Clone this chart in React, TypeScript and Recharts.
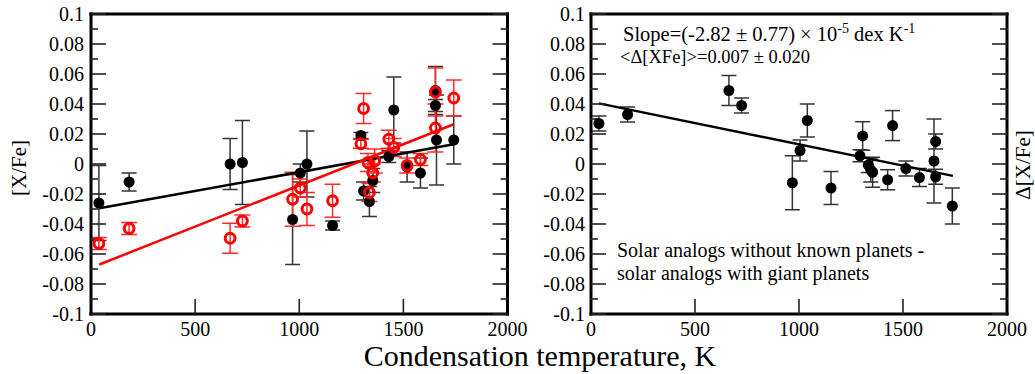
import { ComposedChart, Scatter, Line, XAxis, YAxis, ErrorBar } from 'recharts';

// axis ticks
const xMajorTicks = [0, 500, 1000, 1500, 2000];
const xMajorLabels = ['0', '500', '1000', '1500', '2000'];
const xMinorTicks = [250, 750, 1250, 1750];
const yMajorTicks = [-0.1, -0.08, -0.06, -0.04, -0.02, 0, 0.02, 0.04, 0.06, 0.08, 0.1];
const yMajorLabels = ['-0.1', '-0.08', '-0.06', '-0.04', '-0.02', '0', '0.02', '0.04', '0.06', '0.08', '0.1'];
const yMinorTicks = [-0.09, -0.07, -0.05, -0.03, -0.01, 0.01, 0.03, 0.05, 0.07, 0.09];

// left panel, black filled circles
const leftBlackTemp = [38, 183, 668, 727, 968, 1005, 1037, 1160, 1296, 1309, 1337, 1353, 1430, 1454, 1518, 1582, 1654, 1654, 1659, 1742];
const leftBlackVal = [-0.026, -0.012, 0.0, 0.001, -0.037, -0.006, 0.0, -0.041, 0.019, -0.018, -0.025, -0.011, 0.005, 0.036, -0.002, -0.006, 0.049, 0.039, 0.016, 0.016];
const leftBlackErr = [0.025, 0.006, 0.017, 0.028, 0.03, 0.006, 0.022, 0.003, 0.002, 0.006, 0.01, 0.008, 0.004, 0.022, 0.01, 0.01, 0.016, 0.004, 0.03, 0.016];

// left panel, red open circles
const leftRedTemp = [38, 183, 668, 727, 968, 1005, 1037, 1160, 1296, 1309, 1330, 1337, 1353, 1362, 1430, 1454, 1518, 1582, 1654, 1654, 1742];
const leftRedVal = [-0.053, -0.043, -0.0495, -0.038, -0.0235, -0.016, -0.03, -0.0245, 0.0135, 0.037, 0.001, -0.019, -0.006, 0.002, 0.0165, 0.011, -0.001, 0.003, 0.048, 0.024, 0.044];
const leftRedErr = [0.004, 0.004, 0.01, 0.004, 0.018, 0.006, 0.011, 0.011, 0.003, 0.01, 0.006, 0.006, 0.006, 0.008, 0.006, 0.006, 0.005, 0.004, 0.016, 0.016, 0.012];

// fitted lines (end points)
const leftBlackFit = [{ x: 40, y: -0.0295 }, { x: 1742, y: 0.0131 }];
const leftRedFit = [{ x: 40, y: -0.067 }, { x: 1742, y: 0.0265 }];

// right panel, differences
const rightTemp = [38, 176, 663, 724, 968, 1005, 1040, 1154, 1293, 1306, 1333, 1345, 1354, 1426, 1450, 1514, 1579, 1657, 1649, 1657, 1737];
const rightVal = [0.027, 0.033, 0.049, 0.039, -0.0125, 0.009, 0.029, -0.016, 0.0055, 0.0187, -0.0007, -0.004, -0.0055, -0.0105, 0.0256, -0.003, -0.009, 0.015, 0.002, -0.0085, -0.028];
const rightErr = [0.005, 0.005, 0.01, 0.005, 0.018, 0.007, 0.011, 0.011, 0.004, 0.0095, 0.005, 0.008, 0.01, 0.0067, 0.01, 0.005, 0.006, 0.005, 0.028, 0.005, 0.012];
const rightFit = [{ x: 38, y: 0.0404 }, { x: 1740, y: -0.0079 }];

const toRows = (t: number[], v: number[], e: number[]) => t.map((x, i) => ({ x, y: v[i], err: e[i] }));
const leftBlack = toRows(leftBlackTemp, leftBlackVal, leftBlackErr);
const leftRed = toRows(leftRedTemp, leftRedVal, leftRedErr);
const rightData = toRows(rightTemp, rightVal, rightErr);

const SERIF = '"Liberation Serif", "DejaVu Serif", serif';
const TICK_FONT = { fill: '#000', fontSize: 20, fontFamily: SERIF };
const AXIS_LINE = { stroke: '#000', strokeWidth: 3, strokeLinecap: 'square' as const };
const TICK_LINE = { stroke: '#222', strokeWidth: 1.6 };
const none = () => '';
const yLabel = (v: number) => {
  const i = yMajorTicks.findIndex((t) => Math.abs(t - v) < 1e-9);
  return i >= 0 ? yMajorLabels[i] : '';
};
const xLabel = (v: number) => {
  const i = xMajorTicks.indexOf(v);
  return i >= 0 ? xMajorLabels[i] : '';
};

const BlackDot = (p: any) => <circle cx={p.cx} cy={p.cy} r={5.5} fill="#000" />;
const RedRing = (p: any) => <circle cx={p.cx} cy={p.cy} r={4.9} fill="none" stroke="#ff0000" strokeWidth={3} />;

// every axis is 1px thick so recharts still draws it; the major one sits right on the frame
function frameAxes(yTickMargin: number) {
  const common = { type: 'number' as const, allowDataOverflow: true, interval: 0 as const };
  return [
    <XAxis key="xb" xAxisId="b" dataKey="x" orientation="bottom" domain={[0, 2000]} ticks={xMajorTicks} height={1}
      tickSize={-15} tickMargin={23} tickFormatter={xLabel} tick={TICK_FONT} axisLine={AXIS_LINE} tickLine={TICK_LINE} {...common} />,
    <XAxis key="xbm" xAxisId="bm" orientation="bottom" domain={[0, 2000]} ticks={xMinorTicks} height={1}
      tickSize={-8} tickFormatter={none} axisLine={false} tickLine={TICK_LINE} {...common} />,
    <XAxis key="xt" xAxisId="t" orientation="top" domain={[0, 2000]} ticks={xMajorTicks} height={1}
      tickSize={-15} tickFormatter={none} axisLine={AXIS_LINE} tickLine={TICK_LINE} {...common} />,
    <XAxis key="xtm" xAxisId="tm" orientation="top" domain={[0, 2000]} ticks={xMinorTicks} height={1}
      tickSize={-8} tickFormatter={none} axisLine={false} tickLine={TICK_LINE} {...common} />,
    <YAxis key="yl" yAxisId="l" orientation="left" domain={[-0.1, 0.1]} ticks={yMajorTicks} width={1}
      tickSize={-15} tickMargin={yTickMargin} tickFormatter={yLabel} tick={TICK_FONT} axisLine={AXIS_LINE} tickLine={TICK_LINE} {...common} />,
    <YAxis key="ylm" yAxisId="lm" orientation="left" domain={[-0.1, 0.1]} ticks={yMinorTicks} width={1}
      tickSize={-8} tickFormatter={none} axisLine={false} tickLine={TICK_LINE} {...common} />,
    <YAxis key="yr" yAxisId="r" orientation="right" domain={[-0.1, 0.1]} ticks={yMajorTicks} width={1}
      tickSize={-15} tickFormatter={none} axisLine={AXIS_LINE} tickLine={TICK_LINE} {...common} />,
    <YAxis key="yrm" yAxisId="rm" orientation="right" domain={[-0.1, 0.1]} ticks={yMinorTicks} width={1}
      tickSize={-8} tickFormatter={none} axisLine={false} tickLine={TICK_LINE} {...common} />,
  ];
}

export default function App() {
  return (
    <div style={{ position: 'absolute', left: 0, top: 0, width: 1035, height: 374, background: '#fff' }}>
      <div style={{ position: 'absolute', left: 0, top: 0 }}>
        <ComposedChart width={540} height={374} margin={{ top: 12, bottom: 58, left: 89, right: 30.5 }}>
          {frameAxes(22)}
          <Scatter data={leftBlack} dataKey="y" xAxisId="b" yAxisId="l" shape={BlackDot} isAnimationActive={false}>
            <ErrorBar dataKey="err" direction="y" width={7.5} stroke="#333" strokeWidth={1.5} />
          </Scatter>
          <Scatter data={leftRed} dataKey="y" xAxisId="b" yAxisId="l" shape={RedRing} isAnimationActive={false}>
            <ErrorBar dataKey="err" direction="y" width={8} stroke="#ff2a2a" strokeWidth={1.5} />
          </Scatter>
          <Line data={leftBlackFit} dataKey="y" xAxisId="b" yAxisId="l" type="linear" stroke="#000" strokeWidth={2.5} dot={false} activeDot={false} isAnimationActive={false} />
          <Line data={leftRedFit} dataKey="y" xAxisId="b" yAxisId="l" type="linear" stroke="#ff0000" strokeWidth={2.5} dot={false} activeDot={false} isAnimationActive={false} />
        </ComposedChart>
      </div>
      <div style={{ position: 'absolute', left: 540, top: 0 }}>
        <ComposedChart width={495} height={374} margin={{ top: 12, bottom: 58, left: 49, right: 26 }}>
          {frameAxes(21)}
          <Scatter data={rightData} dataKey="y" xAxisId="b" yAxisId="l" shape={BlackDot} isAnimationActive={false}>
            <ErrorBar dataKey="err" direction="y" width={7.5} stroke="#333" strokeWidth={1.5} />
          </Scatter>
          <Line data={rightFit} dataKey="y" xAxisId="b" yAxisId="l" type="linear" stroke="#000" strokeWidth={2.5} dot={false} activeDot={false} isAnimationActive={false} />
        </ComposedChart>
      </div>
      <svg width={1035} height={374} style={{ position: 'absolute', left: 0, top: 0, pointerEvents: 'none' }} fontFamily={SERIF} fill="#000">
        <text transform="translate(26,168) rotate(-90)" textAnchor="middle" fontSize={21}>[X/Fe]</text>
        <text transform="translate(1030,165) rotate(-90)" textAnchor="middle" fontSize={21}>Δ[X/Fe]</text>
        <text x={540} y={366} textAnchor="middle" fontSize={30}>Condensation temperature, K</text>
        <text x={623} y={41} fontSize={20.5}>
          Slope=(-2.82 ± 0.77) × 10<tspan dy={-8} fontSize={14}>-5</tspan>
          <tspan dy={8}>{'  dex K'}</tspan>
          <tspan dy={-8} fontSize={14}>-1</tspan>
        </text>
        <text x={620} y={63} fontSize={18.5}>&lt;Δ[XFe]&gt;=0.007 ± 0.020</text>
        <text x={617} y={257} fontSize={20}>Solar analogs without known planets -</text>
        <text x={617} y={280} fontSize={20}>solar analogs with giant planets</text>
      </svg>
    </div>
  );
}
